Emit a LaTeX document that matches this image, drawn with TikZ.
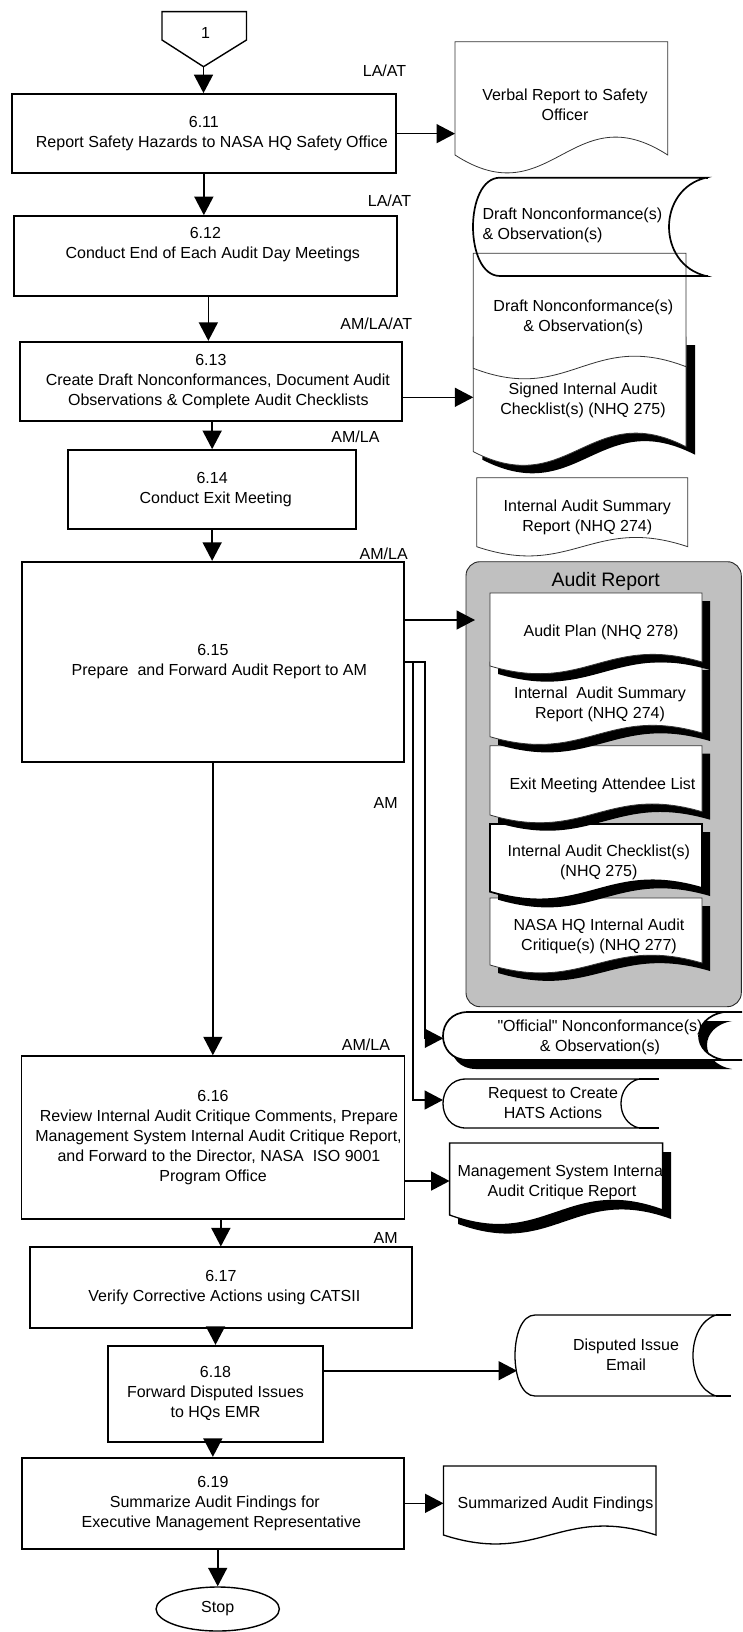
\documentclass[tikz,border=0pt]{standalone}
\usepackage{fontspec}
\setmainfont{Liberation Sans}[Ligatures=TeXOff]
\usetikzlibrary{arrows.meta,shapes.geometric}
\definecolor{cgray}{RGB}{192,192,192}
\newcommand{\fsz}{\fontsize{16}{20}\selectfont}
% document shape: style, x1, ytop, x2, yLeft, yRight, wave control offset
\newcommand{\docshape}[7]{%
  \path[#1] (#2,#3) -- (#4,#3) -- (#4,#6)
    .. controls ({#2+0.55*(#4-#2)},{#6-#7}) and ({#2+0.45*(#4-#2)},{#5+#7}) .. (#2,#5) -- cycle;}
% stored-data shape: style, xa, ytop, ybottom, left bulge, xr, right concave depth
\newcommand{\storedshape}[7]{%
  \path[#1] (#2,#3) -- (#6,#3)
    .. controls ({#6-4/3*#7},{#3+0.12*(#4-#3)}) and ({#6-4/3*#7},{#4-0.12*(#4-#3)}) .. (#6,#4)
    -- (#2,#4) .. controls ({#2-4/3*#5},{#4}) and ({#2-4/3*#5},{#3}) .. cycle;}
\tikzset{
  boxnode/.style={draw, line width=1.7pt, inner sep=0pt, align=center, font=\fsz},
  arr/.style={line width=1.6pt, -{Triangle[length=18.5pt,width=19pt]}},
  lbl/.style={font=\fsz, inner sep=0pt},
  doctext/.style={font=\fsz, inner sep=0pt, align=center},
  thindoc/.style={draw=black!80, line width=0.8pt, fill=white},
  meddoc/.style={draw=black, line width=1.3pt, fill=white},
  thickdoc/.style={draw=black, line width=1.7pt, fill=white},
  shadowfill/.style={fill=black, draw=none},
  storedthick/.style={draw=black, line width=1.7pt, fill=white},
  storedopen/.style={draw=black, line width=1.7pt},
  storedmed/.style={draw=black, line width=1.3pt, fill=white},
}
\begin{document}
\begin{tikzpicture}[x=1pt,y=-1pt]
\useasboundingbox (0,0) rectangle (742,1632);
\clip (0,0) rectangle (742,1632);

% ---------- off-page connector ----------
\draw[line width=1.4pt] (162,11.7) -- (246.5,11.7) -- (246.5,40) -- (203.5,66.7) -- (162,40) -- cycle;
\node[lbl] (n1) at (205.5,33) {1};
\coordinate (c1tip) at (203.5,66.7);

% ---------- process boxes ----------
\node[boxnode, minimum width=384.3pt, minimum height=79.3pt] (b611) at (203.85,133.65)
  {6.11\\\hspace*{16pt}Report Safety Hazards to NASA HQ Safety Office};
\node[boxnode, minimum width=382.7pt, minimum height=79.7pt] (b612) at (205.35,255.85)
  {6.12\\\hspace*{15pt}Conduct End of Each Audit Day Meetings\\[5pt]\mbox{}};
\node[boxnode, minimum width=381.7pt, minimum height=79.3pt] (b613) at (210.85,381.35)
  {6.13\\\hspace*{14pt}Create Draft Nonconformances, Document Audit\\\hspace*{15pt}Observations \& Complete Audit Checklists};
\node[boxnode, minimum width=287.7pt, minimum height=79.3pt] (b614) at (212.15,489.65)
  {6.14\\\hspace*{7pt}Conduct Exit Meeting};
\node[boxnode, minimum width=382.3pt, minimum height=200pt] (b615) at (212.85,661.7)
  {6.15\\\hspace*{13pt}Prepare~ and Forward Audit Report to AM};
\node[boxnode, minimum width=383pt, minimum height=163pt] (b616) at (213,1137.6)
  {6.16\\\hspace*{12pt}Review Internal Audit Critique Comments, Prepare\\\hspace*{11pt}Management System Internal Audit Critique Report,\\\hspace*{12pt}and Forward to the Director, NASA~ ISO 9001\\Program Office};
\node[boxnode, minimum width=381.7pt, minimum height=80.4pt] (b617) at (220.85,1287.5)
  {6.17\\\hspace*{7pt}Verify Corrective Actions using CATSII};
\node[boxnode, minimum width=215.6pt, minimum height=96pt] (b618) at (215.5,1393.7)
  {6.18\\Forward Disputed Issues\\to HQs EMR};
\node[boxnode, minimum width=382.3pt, minimum height=91.6pt] (b619) at (212.85,1503.5)
  {6.19\\\hspace*{4pt}Summarize Audit Findings for\\\hspace*{17pt}Executive Management Representative};
\node[draw, ellipse, line width=1.4pt, minimum width=123.3pt, minimum height=44pt, inner sep=0pt, font=\fsz] (stop) at (217.7,1609) {Stop};

% ---------- role labels ----------
\node[lbl] (l611) at (384.5,71) {LA/AT};
\node[lbl] (l612) at (389.5,201) {LA/AT};
\node[lbl] (l613) at (376.3,323.3) {AM/LA/AT};
\node[lbl] (l614) at (355.5,436.7) {AM/LA};
\node[lbl] (l615) at (383.7,553.3) {AM/LA};
\node[lbl] (lam) at (385.7,802.7) {AM};
\node[lbl] (l616) at (366,1044.3) {AM/LA};
\node[lbl] (l617) at (385.7,1238) {AM};

% ---------- right-hand documents (top) ----------
\docshape{thindoc}{455}{41.7}{667.7}{155}{155}{62}
\node[doctext] (verbal) at (565,105) {Verbal Report to Safety\\Officer};
\coordinate (vrbW) at (455,133.65);

\docshape{shadowfill, shift={(9,8)}}{473.3}{337}{686}{451.7}{446.7}{49}
\docshape{thindoc}{473.3}{337}{686}{451.7}{446.7}{49}
\node[doctext] (signed) at (583,400.7) {Signed Internal Audit\\Checklist(s) (NHQ 275)};
\coordinate (sigW) at (473.3,397.3);

\docshape{thindoc}{473.3}{253.3}{686}{368.3}{366.7}{37}
\node[doctext] (draft2) at (583.3,317) {Draft Nonconformance(s)\\\& Observation(s)};

\storedshape{storedopen}{500}{177.7}{276}{27}{706}{37}
\draw[storedopen] (706,177.7) -- (708.3,177.7) (706,276) -- (708.3,276);
\node[doctext, align=left, anchor=west] (draft1) at (482.3,225) {Draft Nonconformance(s)\\\& Observation(s)};

\docshape{thindoc}{476.7}{477.7}{687.7}{546.7}{546.7}{32}
\node[doctext] (iasr) at (587.3,517.3) {Internal Audit Summary\\Report (NHQ 274)};

% ---------- Audit Report container ----------
\draw[fill=cgray, draw=black!85, line width=0.9pt, rounded corners=14pt] (466,561.7) rectangle (741.3,1006.7);
\node[font=\fontsize{19.5}{22}\selectfont, inner sep=0pt] (artitle) at (605.7,581.7) {Audit Report};
\coordinate (arW) at (475,620);

\docshape{shadowfill, shift={(8,8)}}{490}{898}{702}{965}{963}{28}
\docshape{thindoc}{490}{898}{702}{965}{963}{28}
\node[doctext] (nasa) at (599,936.7) {NASA HQ Internal Audit\\Critique(s) (NHQ 277)};

\docshape{shadowfill, shift={(8,8)}}{490}{824}{702}{891.7}{888}{28}
\docshape{thickdoc}{490}{824}{702}{891.7}{888}{28}
\node[doctext] (iac) at (598.8,862.7) {Internal Audit Checklist(s)\\(NHQ 275)};

\docshape{shadowfill, shift={(8,8)}}{490}{745.7}{702}{815}{811.7}{28}
\docshape{thindoc}{490}{745.7}{702}{815}{811.7}{28}
\node[doctext] (exitl) at (602.5,785) {Exit Meeting Attendee List};

\docshape{shadowfill, shift={(8,8)}}{490}{662}{702}{736.7}{733}{28}
\docshape{thindoc}{490}{662}{702}{736.7}{733}{28}
\node[doctext] (iasr2) at (600,704.8) {Internal~ Audit Summary\\Report (NHQ 274)};

\docshape{shadowfill, shift={(8,8)}}{490}{593}{702}{666}{662}{28}
\docshape{thindoc}{490}{593}{702}{666}{662}{28}
\node[doctext] (aplan) at (601,632.7) {Audit Plan (NHQ 278)};

% ---------- lower right documents ----------
\storedshape{shadowfill, shift={(8,9)}}{468}{1012}{1060}{25}{724}{25}
\storedshape{storedthick}{468}{1012}{1060}{25}{724}{25}
\draw[storedthick] (724,1012) -- (750,1012) (724,1060) -- (750,1060);
\node[doctext] (official) at (600,1037) {"Official" Nonconformance(s)\\\& Observation(s)};
\coordinate (offW) at (443.3,1038.3);

\storedshape{storedmed}{466}{1079}{1128}{23}{639}{18}
\draw[storedmed] (639,1079) -- (659,1079) (639,1128) -- (659,1128);
\node[doctext] (hats) at (553,1103) {Request to Create\\HATS Actions};
\coordinate (hatsW) at (443,1100);

\docshape{shadowfill, shift={(8.5,9)}}{449.6}{1143}{662.6}{1215}{1210}{35}
\docshape{meddoc}{449.6}{1143}{662.6}{1215}{1210}{35}
\node[doctext] (mgmt) at (562,1182) {Management System Internal\\Audit Critique Report};
\coordinate (mgW) at (449.6,1181);

\storedshape{storedmed}{535}{1315}{1396}{20}{716}{23}
\draw[storedmed] (716,1315) -- (731,1315) (716,1396) -- (731,1396);
\node[doctext] (disp) at (626,1355) {Disputed Issue\\Email};
\coordinate (dispW) at (517,1370.7);

\docshape{meddoc}{443.5}{1466}{656}{1535}{1535}{31}
\node[doctext] (summ) at (555.5,1504) {Summarized Audit Findings};
\coordinate (sumW) at (443.5,1503.3);

% ---------- connectors ----------
\draw[arr] (c1tip) -- (c1tip |- b611.north);
\draw[arr] (b611.south) -- (b611.south |- b612.north);
\coordinate (a1213) at ([xshift=3pt]b612.south);
\draw[arr] (a1213) -- (a1213 |- b613.north);
\draw[arr] (b614.north |- b613.south) -- (b614.north);
\draw[arr] (b614.south) -- (b614.south |- b615.north);
\draw[arr] (b615.south) -- (b615.south |- b616.north);
\draw[arr] (b617.north |- b616.south) -- (b617.north);
\draw[arr] (b618.north |- b617.south) -- (b618.north);
\draw[arr] (b619.north |- b618.south) -- (b619.north);
\draw[arr] (stop.north |- b619.south) -- (stop.north);

\draw[arr] (b611.east) -- (vrbW);
\draw[arr] (b613.east |- sigW) -- (sigW);
\draw[arr] (b615.east |- arW) -- (arW);
\coordinate (split) at (404,661.7);
\draw[arr] (b615.east |- split) -- ++(20,0) |- (offW);
\draw[arr] (b615.east |- split) -- ++(8.3,0) |- (hatsW);
\draw[arr] (b616.east |- mgW) -- (mgW);
\draw[arr] (b618.east |- dispW) -- (dispW);
\draw[arr] (b619.east |- sumW) -- (sumW);
\end{tikzpicture}
\end{document}
